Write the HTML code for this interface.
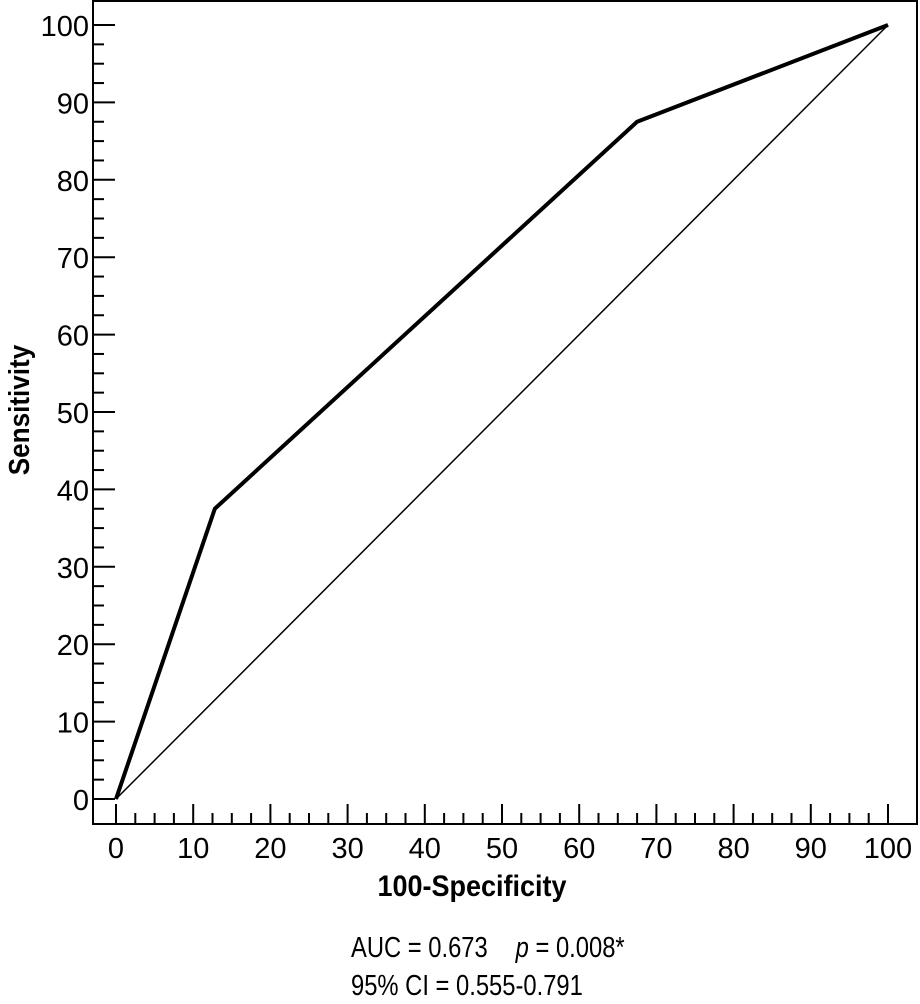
<!DOCTYPE html>
<html><head><meta charset="utf-8"><style>
body{margin:0;background:#fff;}
svg text{font-family:"Liberation Sans",sans-serif;fill:#000;}
</style></head><body>
<svg width="920" height="999" viewBox="0 0 920 999">
<rect x="93" y="1" width="824" height="823" fill="none" stroke="#000" stroke-width="2"/>
<g id="ticks"></g>
<line id="diag" stroke="#000" stroke-width="1.5"/>
<polyline id="roc" fill="none" stroke="#000" stroke-width="4" stroke-linejoin="round"/>
<text transform="translate(472,896) scale(0.9,1)" font-size="30" font-weight="bold" text-anchor="middle">100-Specificity</text>
<text transform="translate(29,410) rotate(-90) scale(0.9,1)" font-size="29" font-weight="bold" text-anchor="middle">Sensitivity</text>
<text transform="translate(351,957) scale(0.82,1)" font-size="29">AUC = 0.673 <tspan dx="26" font-style="italic">p</tspan> = 0.008*</text>
<text transform="translate(351,995) scale(0.82,1)" font-size="29">95% CI = 0.555-0.791</text>
</svg>
<script>
const rocX = [0, 12.8, 67.5, 100];
const rocY = [0, 37.5, 87.5, 100];
const tickLabels = [0,10,20,30,40,50,60,70,80,90,100];
function sx(v){return 116 + v*7.72;}
function sy(v){return 799 - v*7.74;}
const NS="http://www.w3.org/2000/svg";
const g=document.getElementById('ticks');
for(let i=0;i<=40;i++){
  const v=i*2.5, major=(i%4===0);
  let l=document.createElementNS(NS,'line');
  l.setAttribute('x1',sx(v));l.setAttribute('x2',sx(v));
  l.setAttribute('y1',824);l.setAttribute('y2',major?804:813);
  l.setAttribute('stroke','#000');l.setAttribute('stroke-width','2');
  
  
  g.appendChild(l);
  let m=document.createElementNS(NS,'line');
  m.setAttribute('y1',sy(v));m.setAttribute('y2',sy(v));
  m.setAttribute('x1',93);m.setAttribute('x2',major?115:104);
  m.setAttribute('stroke','#000');m.setAttribute('stroke-width','2');
  
  
  g.appendChild(m);
}
tickLabels.forEach(v=>{
  let t=document.createElementNS(NS,'text');
  t.setAttribute('x',sx(v));t.setAttribute('y',858);
  t.setAttribute('font-size','29');t.setAttribute('text-anchor','middle');
  t.textContent=v;
  
  
  g.appendChild(t);
  let u=document.createElementNS(NS,'text');
  u.setAttribute('x',89);u.setAttribute('y',sy(v)+11);
  u.setAttribute('font-size','29');u.setAttribute('text-anchor','end');
  u.textContent=v;
  
  
  g.appendChild(u);
});
const d=document.getElementById('diag');
d.setAttribute('x1',sx(0));d.setAttribute('y1',sy(0));
d.setAttribute('x2',sx(100));d.setAttribute('y2',sy(100));
document.getElementById('roc').setAttribute('points',rocX.map((x,i)=>sx(x)+','+sy(rocY[i])).join(' '));
</script>
</body></html>
